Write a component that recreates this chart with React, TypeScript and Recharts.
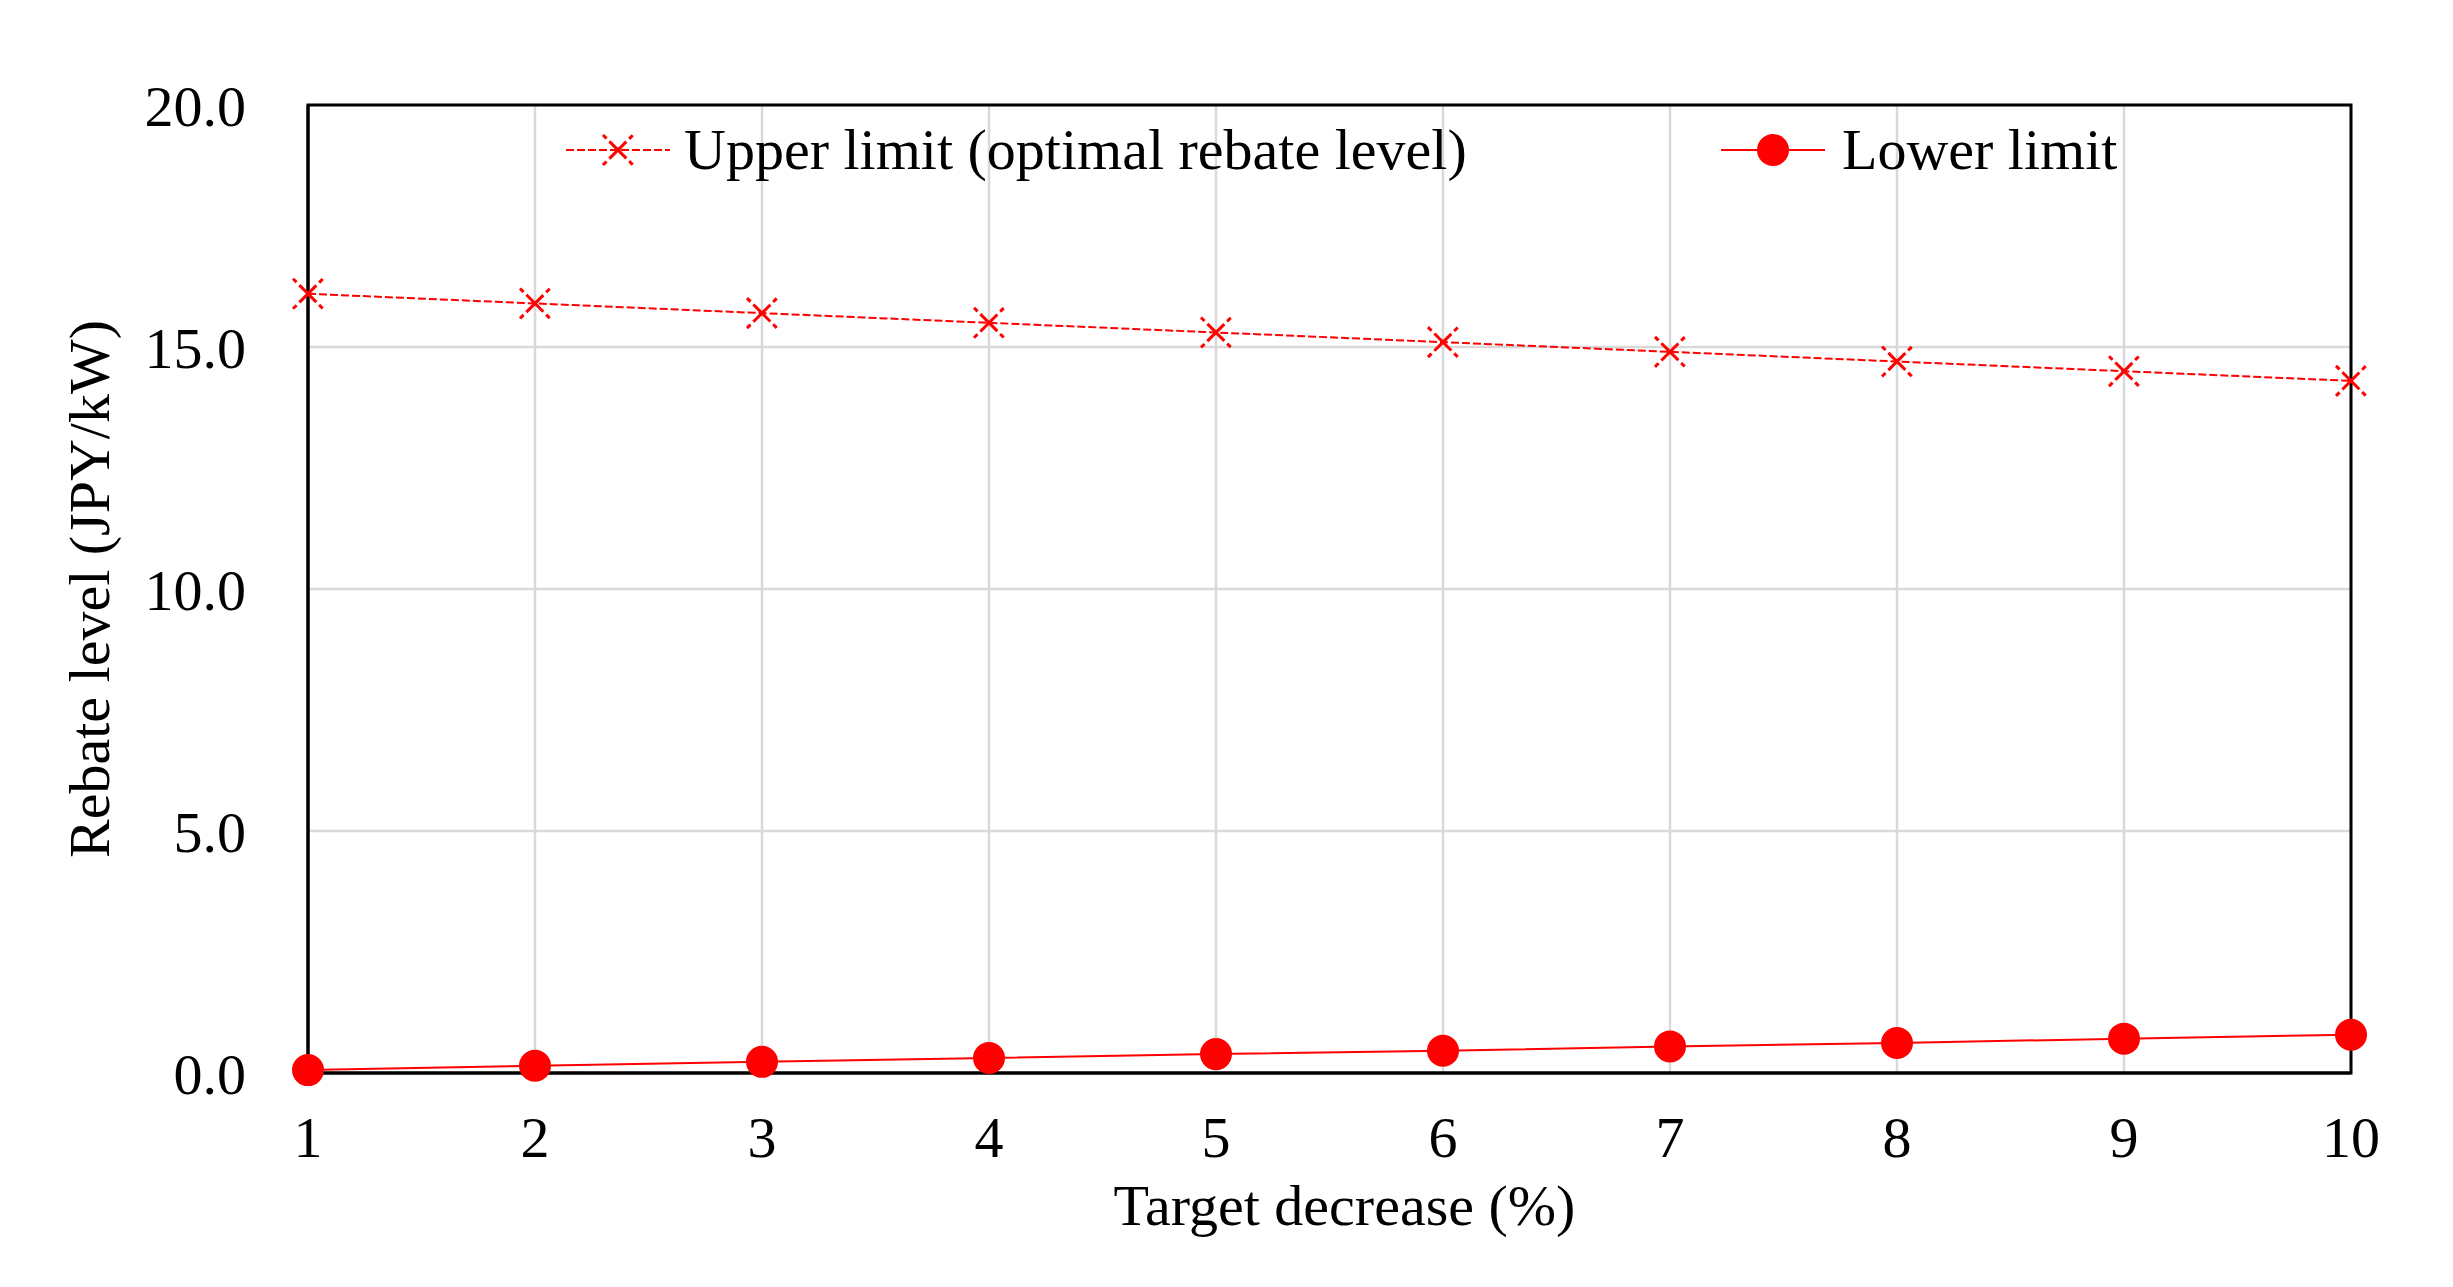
import React from 'react';
import {
  LineChart,
  Line,
  XAxis,
  YAxis,
  CartesianGrid,
  Legend,
  Label,
  ReferenceArea,
} from 'recharts';

const targetDecrease = [1, 2, 3, 4, 5, 6, 7, 8, 9, 10];
const upperLimit = [16.1, 15.9, 15.7, 15.5, 15.3, 15.1, 14.9, 14.7, 14.5, 14.3];
const lowerLimit = [0.06, 0.15, 0.23, 0.31, 0.39, 0.46, 0.55, 0.62, 0.71, 0.79];
const yTicks = [0, 5, 10, 15, 20];
const seriesOrder = ['upper', 'lower'];

const RED = '#ff0000';
const FONT = '"Liberation Serif", "Times New Roman", serif';
const FONT_SIZE = 58;

const data = targetDecrease.map((x, i) => ({
  x,
  upper: upperLimit[i],
  lower: lowerLimit[i],
}));

// dashed "x" marker, like the spreadsheet one
function CrossDot(props: any) {
  const { cx, cy, index } = props;
  if (cx == null || cy == null) return null;
  const s = 15;
  const dash = '5 4 24 4 5';
  return (
    <g key={`cross-${index}`}>
      <line x1={cx - s} y1={cy - s} x2={cx + s} y2={cy + s} stroke={RED} strokeWidth={3} strokeDasharray={dash} />
      <line x1={cx - s} y1={cy + s} x2={cx + s} y2={cy - s} stroke={RED} strokeWidth={3} strokeDasharray={dash} />
    </g>
  );
}

function LegendContent(props: any) {
  const { payload = [] } = props;
  const items = [...payload].sort(
    (a: any, b: any) => seriesOrder.indexOf(a.dataKey) - seriesOrder.indexOf(b.dataKey)
  );
  return (
    <div style={{ display: 'flex', alignItems: 'center', fontFamily: FONT, fontSize: FONT_SIZE, color: '#000', lineHeight: 1 }}>
      {items.map((entry: any) => {
        const isUpper = entry.dataKey === 'upper';
        return (
          <div key={entry.dataKey} style={{ display: 'flex', alignItems: 'center', width: isUpper ? 1155 : 500 }}>
            <svg width={104} height={40}>
              <line
                x1={0}
                y1={20}
                x2={104}
                y2={20}
                stroke={RED}
                strokeWidth={2}
                strokeDasharray={isUpper ? '8 3' : undefined}
              />
              {isUpper ? <CrossDot cx={52} cy={20} index={0} /> : <circle cx={52} cy={20} r={16} fill={RED} />}
            </svg>
            <span style={{ marginLeft: isUpper ? 14 : 17, whiteSpace: 'nowrap' }}>{entry.value}</span>
          </div>
        );
      })}
    </div>
  );
}

const tickStyle = { fontSize: FONT_SIZE, fontFamily: FONT, fill: '#000' };

export default function App() {
  return (
    <div style={{ position: 'absolute', left: 0, top: 0, background: '#fff' }}>
      <LineChart width={2453} height={1287} data={data} margin={{ top: 105, right: 102, left: 40, bottom: 64 }}>
        <CartesianGrid stroke="#d9d9d9" strokeWidth={2.5} />
        <XAxis
          dataKey="x"
          type="number"
          domain={[1, 10]}
          ticks={targetDecrease}
          interval={0}
          height={150}
          tickLine={false}
          tickSize={0}
          tickMargin={43}
          axisLine={{ stroke: '#000', strokeWidth: 3 }}
          tick={tickStyle}
        >
          <Label
            content={(p: any) => {
              const vb = p.viewBox;
              return (
                <text
                  x={vb.x + vb.width / 2 + 15}
                  y={vb.y + 132}
                  textAnchor="middle"
                  dominantBaseline="central"
                  fontFamily={FONT}
                  fontSize={FONT_SIZE}
                  fill="#000"
                >
                  Target decrease (%)
                </text>
              );
            }}
          />
        </XAxis>
        <YAxis
          domain={[0, 20]}
          ticks={yTicks}
          width={268}
          tickLine={false}
          tickSize={0}
          tickMargin={62}
          axisLine={{ stroke: '#000', strokeWidth: 3 }}
          tickFormatter={(v) => Number(v).toFixed(1)}
          tick={tickStyle}
        >
          <Label
            content={(p: any) => {
              const vb = p.viewBox;
              const x = vb.x + 49;
              const y = vb.y + vb.height / 2;
              return (
                <text
                  x={x}
                  y={y}
                  transform={`rotate(-90, ${x}, ${y})`}
                  textAnchor="middle"
                  dominantBaseline="central"
                  fontFamily={FONT}
                  fontSize={FONT_SIZE}
                  fill="#000"
                >
                  Rebate level (JPY/kW)
                </text>
              );
            }}
          />
        </YAxis>
        <ReferenceArea x1={1} x2={10} y1={0} y2={20} fill="none" stroke="#000" strokeWidth={3} />
        <Legend
          layout="vertical"
          align="center"
          verticalAlign="middle"
          wrapperStyle={{ left: 566, top: 121, width: 1800 }}
          content={<LegendContent />}
        />
        <Line
          dataKey="upper"
          name="Upper limit (optimal rebate level)"
          type="linear"
          stroke={RED}
          strokeWidth={2}
          strokeDasharray="8 3"
          dot={<CrossDot />}
          activeDot={false}
          isAnimationActive={false}
        />
        <Line
          dataKey="lower"
          name="Lower limit"
          type="linear"
          stroke={RED}
          strokeWidth={2}
          dot={{ r: 16, fill: RED, stroke: 'none' }}
          activeDot={false}
          isAnimationActive={false}
        />
      </LineChart>
    </div>
  );
}
